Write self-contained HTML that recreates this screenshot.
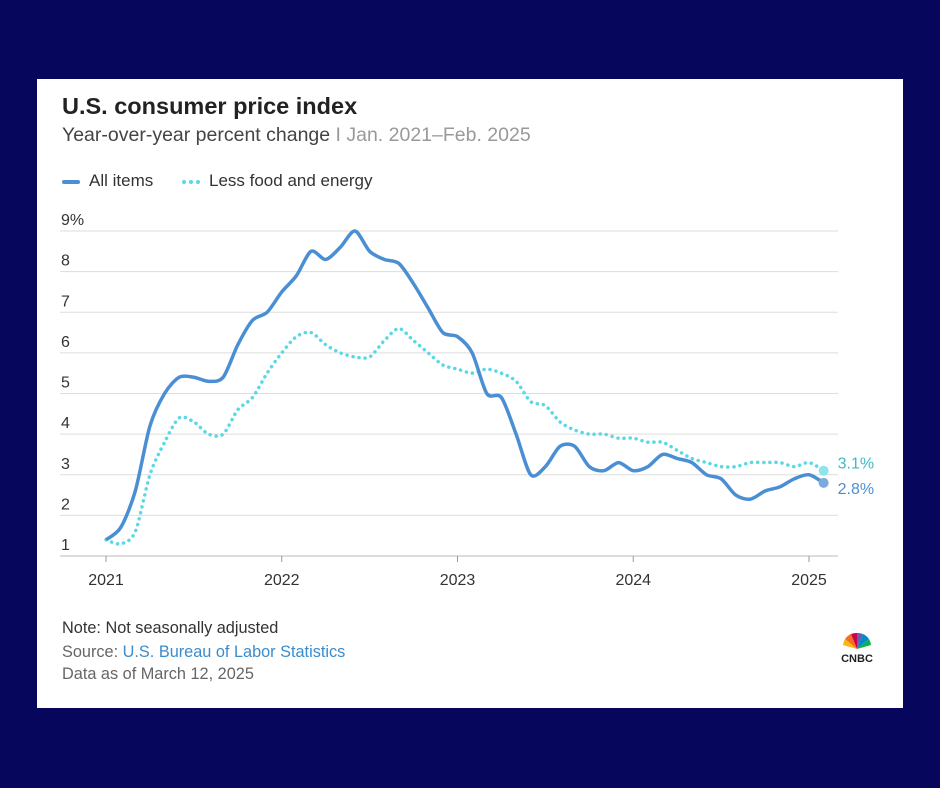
<!DOCTYPE html>
<html><head><meta charset="utf-8"><style>
html,body{margin:0;padding:0}
body{width:940px;height:788px;background:#06065c;position:relative;font-family:"Liberation Sans",sans-serif;overflow:hidden}
#card{position:absolute;left:37px;top:79px;width:866px;height:629px;background:#fff}
.t{position:absolute;white-space:nowrap}
</style></head><body>
<div id="card">
<div class="t" style="left:25px;top:14px;font-size:23.5px;font-weight:bold;color:#222">U.S. consumer price index</div>
<div class="t" style="left:25px;top:45px;font-size:19.5px;color:#444">Year-over-year percent change <span style="color:#999">I Jan. 2021–Feb. 2025</span></div>
<div class="t" style="left:25px;top:92px;font-size:17px;color:#333"><span style="display:inline-block;width:18px;height:4px;background:#4a8fd4;vertical-align:middle;margin-right:9px;border-radius:2px"></span>All items</div>
<div class="t" style="left:145px;top:92px;font-size:17px;color:#333"><span style="display:inline-block;width:18px;border-top:4px dotted #5ad8e6;vertical-align:middle;margin-right:9px"></span>Less food and energy</div>
<div class="t" style="left:25px;top:540px;font-size:16.3px;color:#333">Note: Not seasonally adjusted</div>
<div class="t" style="left:25px;top:564px;font-size:16.3px;color:#666">Source: <span style="color:#3a8ccc">U.S. Bureau of Labor Statistics</span></div>
<div class="t" style="left:25px;top:586px;font-size:16.3px;color:#666">Data as of March 12, 2025</div>
<div class="t" style="left:798px;top:552px;width:44px;text-align:center">
<svg width="30" height="20" viewBox="0 0 30 20"><g transform="translate(15,18)">
<path d="M0 0 L-14 -4 A15 15 0 0 1 -12 -10Z" fill="#fcb711"/><path d="M0 0 L-12 -10 A15 15 0 0 1 -6 -15Z" fill="#f37021"/><path d="M0 0 L-6 -15 A15 15 0 0 1 0 -16Z" fill="#cc004c"/><path d="M0 0 L0 -16 A15 15 0 0 1 6 -15Z" fill="#6460aa"/><path d="M0 0 L6 -15 A15 15 0 0 1 12 -10Z" fill="#0089d0"/><path d="M0 0 L12 -10 A15 15 0 0 1 14 -4Z" fill="#0db14b"/></g></svg>
<div style="font-size:11px;font-weight:bold;color:#222;margin-top:-3px">CNBC</div></div>
</div>
<svg id="chart" width="940" height="788" style="position:absolute;left:0;top:0"></svg>
<script>
const years=["2021","2022","2023","2024","2025"];
const yTicks=[1,2,3,4,5,6,7,8,9];
const allItems=[1.4,1.7,2.6,4.2,5.0,5.4,5.4,5.3,5.4,6.2,6.8,7.0,7.5,7.9,8.5,8.3,8.6,9.0,8.5,8.3,8.2,7.7,7.1,6.5,6.4,6.0,5.0,4.9,4.0,3.0,3.2,3.7,3.7,3.2,3.1,3.3,3.1,3.2,3.5,3.4,3.3,3.0,2.9,2.5,2.4,2.6,2.7,2.9,3.0,2.8];
const core=[1.4,1.3,1.6,3.0,3.8,4.4,4.3,4.0,4.0,4.6,4.9,5.5,6.0,6.4,6.5,6.2,6.0,5.9,5.9,6.3,6.6,6.3,6.0,5.7,5.6,5.5,5.6,5.5,5.3,4.8,4.7,4.3,4.1,4.0,4.0,3.9,3.9,3.8,3.8,3.6,3.4,3.3,3.2,3.2,3.3,3.3,3.3,3.2,3.3,3.1];
const NS="http://www.w3.org/2000/svg";
const svg=document.getElementById('chart');
const x=m=>106+m*(809-106)/48;
const y=v=>556-(v-1)*(556-231)/8;
function mk(t,a){const e=document.createElementNS(NS,t);for(const k in a)e.setAttribute(k,a[k]);svg.appendChild(e);return e;}
yTicks.forEach(v=>{
 const l=mk('line',{x1:60,x2:838,y1:y(v),y2:y(v),stroke:v==1?'#bbb':'#ddd','stroke-width':1});
 
 
 const t=mk('text',{x:61,y:y(v)-6,'font-size':16,fill:'#333','font-family':'Liberation Sans'});
 t.textContent=v==9?'9%':String(v);
 
 
});
years.forEach((yr,i)=>{
 const xx=x(i*12);
 const tk=mk('line',{x1:xx,x2:xx,y1:556,y2:562,stroke:'#999'});
 
 
 const t=mk('text',{x:xx,y:585,'font-size':16,fill:'#333','text-anchor':'middle','font-family':'Liberation Sans'});
 t.textContent=yr;
 
 
});
function path(d){
 const p=d.map((v,i)=>[x(i),y(v)]);let s='M'+p[0][0]+' '+p[0][1];
 for(let i=0;i<p.length-1;i++){const p0=p[i-1]||p[i],p1=p[i],p2=p[i+1],p3=p[i+2]||p2;
  s+=` C${p1[0]+(p2[0]-p0[0])/7} ${p1[1]+(p2[1]-p0[1])/7} ${p2[0]-(p3[0]-p1[0])/7} ${p2[1]-(p3[1]-p1[1])/7} ${p2[0]} ${p2[1]}`;}
 return s;}
const c=mk('path',{d:path(core),fill:'none',stroke:'#5ad8e6','stroke-width':3.5,'stroke-dasharray':'0.1 6','stroke-linecap':'round'});


const a=mk('path',{d:path(allItems),fill:'none',stroke:'#4a8fd4','stroke-width':3.5});


const n=allItems.length-1;
const d1=mk('circle',{cx:x(n),cy:y(core[n]),r:5,fill:'#8fe3ec'});


const d2=mk('circle',{cx:x(n),cy:y(allItems[n]),r:5,fill:'#7ea9dc'});


const l1=mk('text',{x:x(n)+14,y:y(core[n])-2,'font-size':16,fill:'#3fb9c6','font-family':'Liberation Sans'});
l1.textContent=core[n].toFixed(1)+'%';


const l2=mk('text',{x:x(n)+14,y:y(allItems[n])+11,'font-size':16,fill:'#4a8fd4','font-family':'Liberation Sans'});
l2.textContent=allItems[n].toFixed(1)+'%';


</script>
</body></html>
